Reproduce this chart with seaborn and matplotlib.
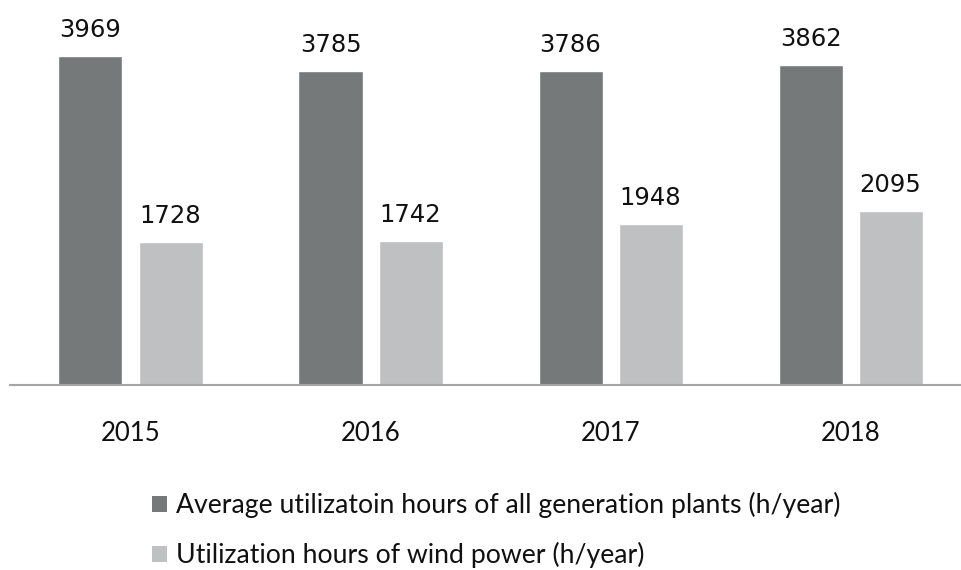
import matplotlib
matplotlib.use("Agg")
import matplotlib.pyplot as plt
import seaborn as sns
import pandas as pd
from matplotlib.patches import Patch

years = ["2015", "2016", "2017", "2018"]
avg_hours = [3969, 3785, 3786, 3862]
wind_hours = [1728, 1742, 1948, 2095]
series_names = ["Average utilizatoin hours of all generation plants (h/year)",
                "Utilization hours of wind power (h/year)"]
colors = ["#76797a", "#bfc0c1"]

df = pd.DataFrame({
    "year": years * 2,
    "value": avg_hours + wind_hours,
    "series": [series_names[0]] * 4 + [series_names[1]] * 4,
})

sns.set_theme(style="white")
plt.rcParams["font.family"] = ["Lato", "DejaVu Sans"]

fig = plt.figure(figsize=(9.61, 5.70), dpi=100)
ax = fig.add_axes([10 / 961, 1 - 385 / 570, 951 / 961, 385 / 570])
sns.barplot(data=df, x="year", y="value", hue="series", palette=colors,
            width=0.667, gap=0.2, ax=ax, legend=False, saturation=1)

for cont in ax.containers:
    for bar in cont:
        h = bar.get_height()
        ax.annotate(f"{int(h)}", (bar.get_x() + bar.get_width() / 2, h),
                    xytext=(0, 10), textcoords="offset points",
                    ha="center", va="bottom", fontsize=17.5,
                    family=["DejaVu Sans"], color="#111111")

ax.set_ylim(0, 4644)
ax.set_xlim(-0.502, 3.46)
ax.set_xlabel("")
ax.set_ylabel("")
ax.set_yticks([])
for s in ["top", "right", "left"]:
    ax.spines[s].set_visible(False)
ax.spines["bottom"].set_color("#a6a6a6")
ax.spines["bottom"].set_linewidth(1.5)
ax.tick_params(axis="x", length=0, pad=26, labelsize=18.5, labelcolor="#111111")

handles = [Patch(facecolor=c, edgecolor="none") for c in colors]
fig.legend(handles, series_names, loc="upper left",
           bbox_to_anchor=(128 / 961, 1 - 468 / 570), frameon=False,
           fontsize=19.2, handlelength=0.55, handleheight=0.55,
           handletextpad=0.35, labelspacing=0.9, labelcolor="#111111")

fig.savefig("out.png", dpi=100)
